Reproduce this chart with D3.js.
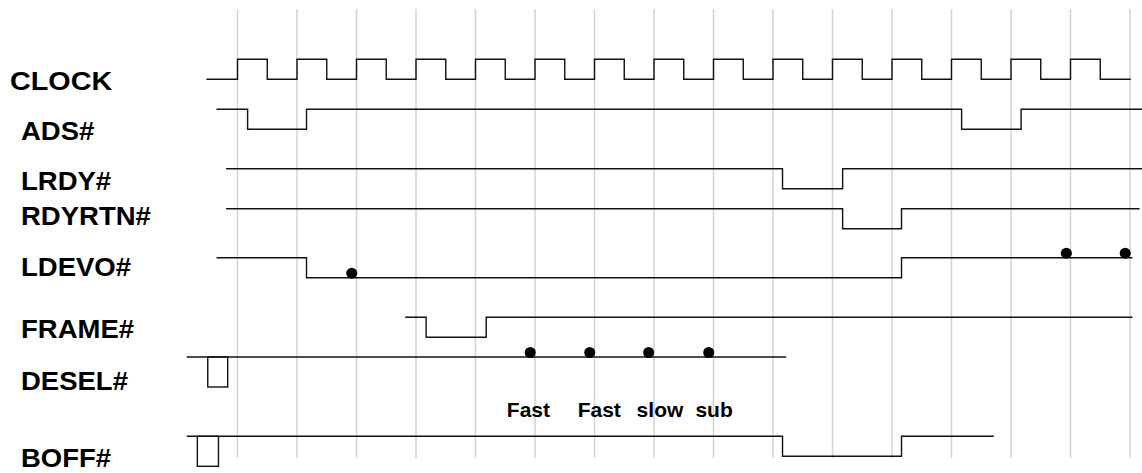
<!DOCTYPE html>
<html>
<head>
<meta charset="utf-8">
<script src="https://cdn.jsdelivr.net/npm/d3@7/dist/d3.min.js"></script>
<style>
  body { margin: 0; background: #fff; }
  svg { display: block; }
  .sig { font-family: "Liberation Sans", Arial, sans-serif; font-weight: bold; fill: #000; }
</style>
</head>
<body>
<svg id="chart"></svg>
<script>
// signal names, top to bottom
const signals = ['CLOCK', 'ADS#', 'LRDY#', 'RDYRTN#', 'LDEVO#', 'FRAME#', 'DESEL#', 'BOFF#'];

// clock cycle marks (grid lines)
const cycles = [0, 1, 2, 3, 4, 5, 6, 7, 8, 9, 10, 11, 12, 13, 14, 15];

// waves: [time in clock cycles, level], level holds until the next entry
// level 1 = high, 0 = low
const clockWave = [
  [-0.51, 0], [0, 1], [0.5, 0], [1, 1], [1.5, 0], [2, 1], [2.5, 0], [3, 1], [3.5, 0],
  [4, 1], [4.5, 0], [5, 1], [5.5, 0], [6, 1], [6.5, 0], [7, 1], [7.5, 0], [8, 1], [8.5, 0],
  [9, 1], [9.5, 0], [10, 1], [10.5, 0], [11, 1], [11.5, 0], [12, 1], [12.5, 0],
  [13, 1], [13.5, 0], [14, 1], [14.5, 0], [15, 0]
];
const adsWave = [[-0.34, 1], [0.17, 0], [1.16, 1], [12.17, 0], [13.17, 1], [15.2, 1]];
const lrdyWave = [[-0.18, 1], [9.16, 0], [10.17, 1], [15.2, 1]];
const rdyrtnWave = [[-0.18, 1], [10.17, 0], [11.16, 1], [15.15, 1]];
const ldevoWave = [[-0.34, 1], [1.16, 0], [11.16, 1], [15.03, 1]];
const frameWave = [[2.83, 1], [3.17, 0], [4.18, 1], [15.03, 1]];
const deselWave = [[-0.84, 1], [9.21, 1]];
const boffWave = [[-0.84, 1], [9.16, 0], [11.16, 1], [12.7, 1]];

const waves = [clockWave, adsWave, lrdyWave, rdyrtnWave, ldevoWave, frameWave, deselWave, boffWave];

// short deep pulses hanging under the high line: signal, start, end
const pulseSignal = ['DESEL#', 'BOFF#'];
const pulseStart = [-0.5, -0.675];
const pulseEnd = [-0.165, -0.32];

// dots: signal, time, level
const dotSignal = ['LDEVO#', 'DESEL#', 'DESEL#', 'DESEL#', 'DESEL#', 'LDEVO#', 'LDEVO#'];
const dotTime = [1.92, 4.92, 5.92, 6.91, 7.92, 13.93, 14.92];
const dotLevel = [0, 1, 1, 1, 1, 1, 1];

// notes under DESEL#
const noteText = ['Fast', 'Fast', 'slow', 'sub'];
const noteTime = [4.89, 6.08, 7.10, 8.01];

function makeChart() {
  let w = 1142;
  let h = 473;

  let svg = d3.select('#chart')
    .attr('width', w)
    .attr('height', h);

  // one clock cycle = 59.5 px
  let xScale = d3.scaleLinear()
    .domain([0, 15])
    .range([237.5, 1130]);

  // y of the low level of each row
  let rowScale = d3.scaleOrdinal()
    .domain(signals)
    .range([79.3, 129.3, 188.7, 228.7, 277.7, 337.3, 377, 456.3]);

  // level -> offset from the low line
  let levelScale = d3.scaleLinear()
    .domain([0, 1])
    .range([0, -20]);

  // label baselines
  let labelScale = d3.scaleOrdinal()
    .domain(signals)
    .range([90, 140, 190, 225, 276, 338, 390, 467]);

  // GRID
  svg.append('g')
    .selectAll('line')
    .data(cycles)
    .enter()
    .append('line')
    .attr('x1', (d) => xScale(d))
    .attr('x2', (d) => xScale(d))
    .attr('y1', 9)
    .attr('y2', 458)
    .attr('stroke', '#d2d2d2')
    .attr('stroke-width', 1.5);

  // WAVES
  let line = d3.line()
    .x((d) => xScale(d[0]))
    .y((d) => d[1])
    .curve(d3.curveStepAfter);

  svg.append('g')
    .selectAll('path')
    .data(waves)
    .enter()
    .append('path')
    .attr('d', (wv, i) => line(wv.map((p) => [p[0], rowScale(signals[i]) + levelScale(p[1])])))
    .attr('fill', 'none')
    .attr('stroke', '#111')
    .attr('stroke-width', 1.4)
    .attr('stroke-linecap', 'square');

  // PULSES (open boxes under the line)
  svg.append('g')
    .selectAll('rect')
    .data(pulseStart)
    .enter()
    .append('rect')
    .attr('x', (d) => xScale(d))
    .attr('y', (d, i) => rowScale(pulseSignal[i]) + levelScale(1))
    .attr('width', (d, i) => xScale(pulseEnd[i]) - xScale(d))
    .attr('height', (d, i) => levelScale(0) - levelScale(1.5))
    .attr('fill', 'none')
    .attr('stroke', '#111')
    .attr('stroke-width', 1.4);

  // DOTS
  svg.append('g')
    .selectAll('circle')
    .data(dotTime)
    .enter()
    .append('circle')
    .attr('cx', (d) => xScale(d))
    .attr('cy', (d, i) => rowScale(dotSignal[i]) + levelScale(dotLevel[i]) - 4.5)
    .attr('r', 5.5)
    .attr('fill', '#000');

  // SIGNAL LABELS
  svg.append('g')
    .selectAll('text')
    .data(signals)
    .enter()
    .append('text')
    .attr('class', 'sig')
    .attr('font-size', '25px')
    .attr('transform', (d, i) => `translate(${i == 0 ? 10 : 21}, ${labelScale(d)}) scale(${i == 0 ? 1.15 : 1.1}, 1)`)
    .text((d) => d);

  // NOTES
  svg.append('g')
    .selectAll('text')
    .data(noteText)
    .enter()
    .append('text')
    .attr('class', 'sig')
    .attr('font-size', '20px')
    .attr('text-anchor', 'middle')
    .attr('transform', (d, i) => `translate(${xScale(noteTime[i])}, 416.7) scale(1.05, 1)`)
    .text((d) => d);
}

window.onload = function () {
  makeChart();
}
</script>
</body>
</html>
